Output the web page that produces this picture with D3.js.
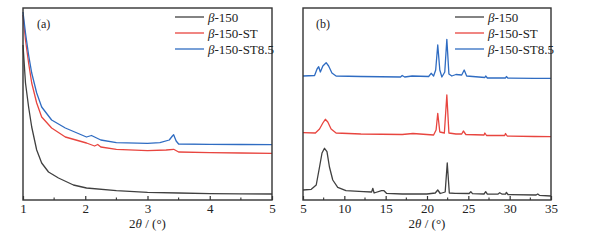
<!DOCTYPE html>
<html lang="en">
<head>
<meta charset="UTF-8">
<title>XRD patterns</title>
<script src="https://d3js.org/d3.v7.min.js"></script>
<style>
  body { margin: 0; background: #fff; }
  svg { display: block; }
  svg text { font-family: "Liberation Serif", "Times New Roman", serif; }
  .tick text { font-size: 13px; fill: #222; }
  .lab { font-size: 13px; fill: #222; }
</style>
</head>
<body>
<svg id="chart" width="593" height="241"></svg>
<script>
// series names and colours
const names = ["β-150", "β-150-ST", "β-150-ST8.5"];
const colors = ["#404040", "#e8453f", "#2f6cc2"];

// panel (a): small-angle, [2theta, intensity a.u.]
const a150 = [[1.0,155],[1.04,117],[1.09,93],[1.14,73],[1.22,50],[1.30,37],[1.41,28],[1.57,22],
  [1.81,15],[2.02,12],[2.5,9.3],[3.0,7.7],[3.5,7],[4.0,6.3],[4.5,6.1],[5.0,6]];
const a150ST = [[1.0,185],[1.04,160],[1.09,137],[1.14,117],[1.22,97],[1.30,83],[1.46,72],[1.68,63],
  [2.02,57],[2.15,54],[2.2,55.5],[2.25,53],[2.5,50.7],[3.0,49.3],[3.3,50],[3.42,50.7],[3.5,48],
  [4.0,47.3],[4.5,47],[5.0,46.7]];
const a150ST85 = [[1.0,188],[1.04,167],[1.09,145],[1.14,127],[1.22,107],[1.30,93],[1.46,80],[1.68,72],
  [2.02,63],[2.1,64.5],[2.25,60],[2.5,57.3],[3.0,56.7],[3.2,57.3],[3.35,60],[3.4,64],[3.42,65.3],
  [3.46,59],[3.5,56],[4.0,55.7],[4.5,55.5],[5.0,55.3]];

// panel (b): wide-angle, [2theta, intensity a.u.]
const b150 = [[5,10],[6,10.7],[6.6,15],[7.0,33],[7.3,47],[7.6,51.7],[7.9,48.3],[8.2,33],[8.6,20],
  [9.2,12.7],[10.2,9.3],[12.3,8.3],[13.3,8],[13.45,11.7],[13.6,7],[14.5,9.3],[14.8,9.3],[15.1,6.7],
  [17,6],[20,6],[21.0,7],[21.3,10],[21.6,6.5],[22.2,8],[22.45,37],[22.7,7],[23.4,6.7],[25.1,6.5],
  [25.3,8.3],[25.5,6.3],[26.9,6],[27.1,8.3],[27.3,5.8],[28.6,6],[28.8,7.3],[29.1,5.8],[29.5,5.8],
  [29.6,7.7],[29.8,5.5],[33.2,5],[33.4,6],[33.6,4.7],[35,4]];
const b150ST = [[5,67.3],[6.5,67],[7.0,71],[7.4,77],[7.7,80.7],[8.0,78],[8.4,71],[9.0,67],[12,66],
  [17,65.5],[18.3,66.5],[20.8,65],[21.1,70],[21.3,86.7],[21.55,68],[22.1,67],[22.4,105],[22.65,67],
  [23.5,66],[24.2,66],[24.4,69],[24.7,65.5],[26.9,65],[27.0,67],[27.2,64.5],[29.4,64.5],[29.5,66.5],
  [29.7,64],[33,63.5],[35,63.3]];
const b150ST85 = [[5,124],[6.4,124.5],[6.7,131],[6.9,133.3],[7.1,128],[7.4,134],[7.8,137.3],[8.1,134],
  [8.5,127],[9.0,124],[12,123.5],[16.8,123],[17.0,124.5],[17.3,123],[18.2,124],[20.2,123.5],
  [20.5,126.7],[20.8,124],[21.05,130],[21.3,155],[21.55,130],[21.8,123],[22.15,128],[22.4,160.7],
  [22.65,126],[23.0,124],[23.5,125.5],[24.2,125],[24.5,130],[24.8,124],[27.0,122.5],[27.1,124],
  [27.3,122],[29.5,122],[29.6,123.5],[29.8,121.8],[33,121.7],[35,121.7]];

const panels = [
  { tag: "(a)", left: 23, right: 272, dom: [1, 5], ticks: [1, 2, 3, 4, 5], minor: [1.5, 2.5, 3.5, 4.5],
    series: [a150, a150ST, a150ST85], legX: 175, tagX: 37 },
  { tag: "(b)", left: 303, right: 551, dom: [5, 35], ticks: [5, 10, 15, 20, 25, 30, 35],
    minor: [7.5, 12.5, 17.5, 22.5, 27.5, 32.5], series: [b150, b150ST, b150ST85], legX: 455, tagX: 316 }
];

const plotTop = 8, plotBottom = 200;
const svg = d3.select("#chart");
const y = d3.scaleLinear().domain([0, 192]).range([plotBottom, plotTop]);

panels.forEach(p => {
  const x = d3.scaleLinear().domain(p.dom).range([p.left, p.right]);
  const g = svg.append("g");

  const line = d3.line().x(d => x(d[0])).y(d => y(d[1]));
  p.series.forEach((s, i) => {
    g.append("path")
      .attr("d", line(s))
      .attr("fill", "none")
      .attr("stroke", colors[i])
      .attr("stroke-width", 1.3)
      .attr("stroke-linejoin", "round");
  });

  // frame
  g.append("rect")
    .attr("x", p.left).attr("y", plotTop)
    .attr("width", p.right - p.left).attr("height", plotBottom - plotTop)
    .attr("fill", "none").attr("stroke", "#333").attr("stroke-width", 1.4);

  // bottom axis with inward ticks
  const ax = g.append("g")
    .attr("transform", `translate(0,${plotBottom})`)
    .call(d3.axisBottom(x).tickValues(p.ticks).tickSize(-4).tickPadding(4).tickFormat(d3.format("d")));
  ax.attr("font-family", null);
  ax.select(".domain").remove();
  ax.selectAll(".tick line").attr("stroke", "#333").attr("stroke-width", 1.2);
  ax.selectAll(".tick text").style("font-family", '"Liberation Serif", serif');
  g.selectAll(".minor")
    .data(p.minor)
    .join("line")
    .attr("class", "minor")
    .attr("x1", d => x(d)).attr("x2", d => x(d))
    .attr("y1", plotBottom).attr("y2", plotBottom - 2.5)
    .attr("stroke", "#333").attr("stroke-width", 1.1);

  // axis title
  const t = g.append("text")
    .attr("class", "lab")
    .attr("x", (p.left + p.right) / 2)
    .attr("y", 228)
    .attr("text-anchor", "middle");
  t.append("tspan").text("2");
  t.append("tspan").attr("font-style", "italic").text("θ");
  t.append("tspan").text(" / (°)");

  // panel tag
  g.append("text").attr("class", "lab")
    .attr("x", p.tagX).attr("y", 28).style("font-size", "12px").text(p.tag);

  // legend
  names.forEach((n, i) => {
    const ly = 17 + i * 16;
    g.append("line")
      .attr("x1", p.legX).attr("x2", p.legX + 29)
      .attr("y1", ly).attr("y2", ly)
      .attr("stroke", colors[i]).attr("stroke-width", 1.3);
    const lt = g.append("text").attr("class", "lab")
      .attr("x", p.legX + 33).attr("y", ly + 4.5);
    lt.append("tspan").attr("font-style", "italic").text("β");
    lt.append("tspan").text(n.slice(1));
  });
});
</script>
</body>
</html>
